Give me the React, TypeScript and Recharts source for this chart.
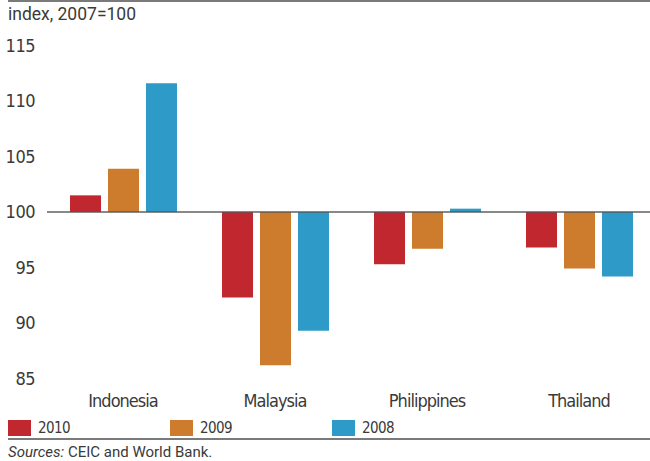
import { Bar, BarChart, ReferenceLine, XAxis, YAxis } from 'recharts'

const categories = ['Indonesia', 'Malaysia', 'Philippines', 'Thailand']
const idx2010 = [101.5, 92.3, 95.3, 96.8]
const idx2009 = [103.9, 86.2, 96.7, 94.9]
const idx2008 = [111.6, 89.3, 100.3, 94.2]
const yTicks = [85, 90, 95, 100, 105, 110, 115]
const BASE = 100

const series = [
  { key: 'y2010', name: '2010', color: '#C1272F' },
  { key: 'y2009', name: '2009', color: '#CD7C2E' },
  { key: 'y2008', name: '2008', color: '#2D9AC7' },
]

const data = categories.map((name, i) => ({
  name,
  y2010: idx2010[i],
  y2009: idx2009[i],
  y2008: idx2008[i],
}))

const NARROW = '"Liberation Sans Narrow", "DejaVu Sans Condensed", "Roboto Condensed", Roboto, sans-serif'
const PLAIN = 'Roboto, "Liberation Sans", Arial, sans-serif'
const TEXT = '#3a3a3a'
const RULE = '#7a7a7a'

// bars hang from the 2007 = 100 line, so each one is a [low, high] range
const rangeFrom = (key: string) => (d: any) => {
  const v = d[key] as number
  return [Math.min(BASE, v), Math.max(BASE, v)]
}

export default function App() {
  return (
    <div style={{ position: 'absolute', left: 0, top: 0, width: 650, height: 461, overflow: 'hidden', background: '#fff' }}>
      <div style={{ position: 'absolute', left: 8, top: 0, width: 642, borderTop: `2px solid ${RULE}` }} />
      <div style={{ position: 'absolute', left: 8, top: 4, fontFamily: PLAIN, fontSize: 17.5, color: TEXT }}>
        index, 2007=100
      </div>

      <div style={{ position: 'absolute', left: 0, top: 0 }}>
        <BarChart
          width={660}
          height={461}
          data={data}
          margin={{ top: 45.5, right: 5, bottom: 52.5, left: 0 }}
          barSize={31}
          barGap={7}
        >
          <YAxis
            type="number"
            domain={[85, 115]}
            ticks={yTicks}
            width={47}
            axisLine={false}
            tickLine={false}
            tickSize={0}
            tickMargin={12}
            tick={{ fill: TEXT, fontSize: 18, fontFamily: NARROW, letterSpacing: -0.5 }}
            interval={0}
          />
          <XAxis
            dataKey="name"
            height={30}
            axisLine={false}
            tickLine={false}
            tickSize={0}
            tickMargin={16}
            tick={{ fill: TEXT, fontSize: 18, fontFamily: NARROW, letterSpacing: -1 }}
            interval={0}
          />
          {series.map((s) => (
            <Bar key={s.key} dataKey={rangeFrom(s.key)} name={s.name} fill={s.color} isAnimationActive={false} />
          ))}
          <ReferenceLine y={BASE} stroke="#555" strokeOpacity={0.7} strokeWidth={2} />
        </BarChart>
      </div>

      {series.map((s, i) => (
        <div
          key={s.key}
          style={{ position: 'absolute', left: 8 + i * 162, top: 420, display: 'flex', alignItems: 'center' }}
        >
          <div style={{ width: 23, height: 16, background: s.color }} />
          <span style={{ marginLeft: 7, fontFamily: NARROW, fontSize: 15, color: TEXT, lineHeight: '16px', letterSpacing: -0.6 }}>
            {s.name}
          </span>
        </div>
      ))}

      <div style={{ position: 'absolute', left: 8, top: 438, width: 642, borderTop: `2px solid ${RULE}` }} />
      <div style={{ position: 'absolute', left: 8, top: 443, fontFamily: PLAIN, fontSize: 15, color: TEXT }}>
        <i>Sources:</i> CEIC and World Bank.
      </div>
    </div>
  )
}
